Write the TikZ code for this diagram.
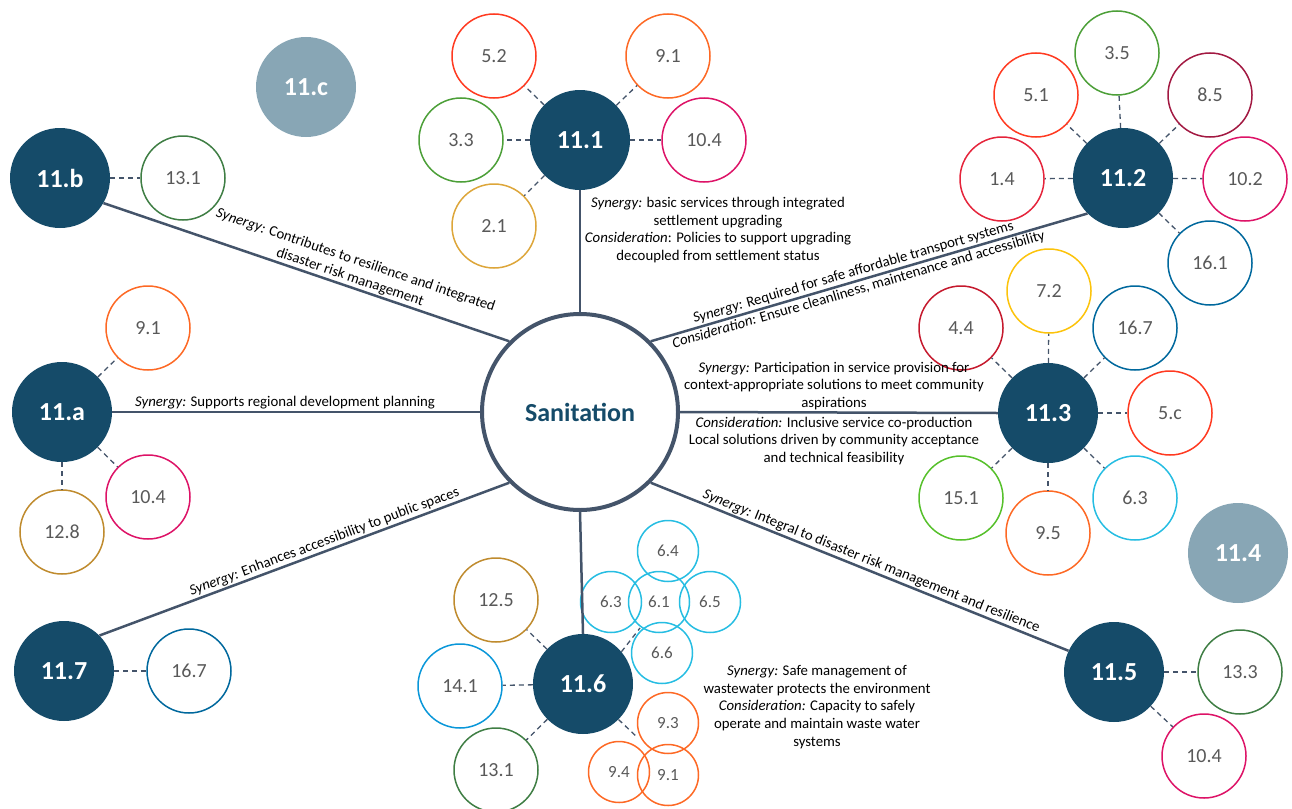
\documentclass[tikz,border=0pt]{standalone}
\usepackage{fontspec}
\setmainfont{Carlito}
\definecolor{hubc}{HTML}{154B69}
\definecolor{grayc}{HTML}{88A6B5}
\definecolor{edgec}{HTML}{44546A}
\definecolor{txtg}{HTML}{595959}
\definecolor{sdgA}{HTML}{E5243B}
\definecolor{sdgB}{HTML}{DDA63A}
\definecolor{sdgC}{HTML}{4C9F38}
\definecolor{sdgD}{HTML}{C5192D}
\definecolor{sdgE}{HTML}{FF3A21}
\definecolor{sdgF}{HTML}{26BDE2}
\definecolor{sdgG}{HTML}{FCC30B}
\definecolor{sdgH}{HTML}{A21942}
\definecolor{sdgI}{HTML}{FD6925}
\definecolor{sdgJ}{HTML}{DD1367}
\definecolor{sdgL}{HTML}{BF8B2E}
\definecolor{sdgM}{HTML}{3F7E44}
\definecolor{sdgN}{HTML}{0A97D9}
\definecolor{sdgO}{HTML}{56C02B}
\definecolor{sdgP}{HTML}{00689D}
\tikzset{
  hub/.style={circle, fill=hubc, minimum size=100pt, inner sep=0pt, text=white, font=\fontsize{26}{30}\selectfont\bfseries},
  ghub/.style={hub, fill=grayc},
  sat/.style={circle, draw=#1, line width=1.5pt, minimum size=84pt, inner sep=0pt, text=txtg, font=\fontsize{20}{24}\selectfont},
  csat/.style={sat=#1, minimum size=61pt, font=\fontsize{17}{20}\selectfont},
  edge/.style={draw=edgec, line width=2.5pt},
  dsh/.style={draw=edgec, line width=1.3pt, dash pattern=on 5pt off 4pt},
  lbl/.style={font=\fontsize{14.8}{17.8}\selectfont, align=center, inner sep=1.5pt, text=black},
}
\begin{document}
\begin{tikzpicture}[x=1pt,y=-1pt]
\useasboundingbox (0,0) rectangle (1292,808);
% centre
\node[circle, draw=edgec, line width=4pt, fill=white, minimum size=196pt, inner sep=0pt, text=hubc, font=\fontsize{26}{30}\selectfont\bfseries] (san) at (580,412) {Sanitation};
% hubs
\node[hub] (h11b) at (60,178) {11.b};
\node[ghub] (h11c) at (306,87) {11.c};
\node[hub] (h111) at (580,140) {11.1};
\node[hub] (h112) at (1123,178) {11.2};
\node[hub] (h11a) at (62,412) {11.a};
\node[hub] (h113) at (1048,413) {11.3};
\node[ghub] (h114) at (1238,553) {11.4};
\node[hub] (h117) at (64,671) {11.7};
\node[hub] (h116) at (583,684) {11.6};
\node[hub] (h115) at (1114,672) {11.5};
% satellites 11.b
\node[sat=sdgM] (b131) at (183,178) {13.1};
% 11.1
\node[sat=sdgE] (a52) at (494,56) {5.2};
\node[sat=sdgI] (a91) at (668,56) {9.1};
\node[sat=sdgC] (a33) at (461,140) {3.3};
\node[sat=sdgJ] (a104) at (704,140) {10.4};
\node[sat=sdgB] (a21) at (494,226) {2.1};
% 11.2
\node[sat=sdgC] (c35) at (1117,53) {3.5};
\node[sat=sdgE] (c51) at (1036,95) {5.1};
\node[sat=sdgH] (c85) at (1210,95) {8.5};
\node[sat=sdgA] (c14) at (1002,179) {1.4};
\node[sat=sdgJ] (c102) at (1245,179) {10.2};
\node[sat=sdgP] (c161) at (1210,263) {16.1};
% 11.a
\node[sat=sdgI] (e91) at (148,328) {9.1};
\node[sat=sdgJ] (e104) at (148,497) {10.4};
\node[sat=sdgL] (e128) at (62,532) {12.8};
% 11.3
\node[sat=sdgD] (f44) at (961,328) {4.4};
\node[sat=sdgG] (f72) at (1049,291) {7.2};
\node[sat=sdgP] (f167) at (1135,328) {16.7};
\node[sat=sdgE] (f5c) at (1170,413) {5.c};
\node[sat=sdgO] (f151) at (961,498) {15.1};
\node[sat=sdgI] (f95) at (1048,533) {9.5};
\node[sat=sdgF] (f63) at (1135,498) {6.3};
% 11.7
\node[sat=sdgP] (g167) at (189,671) {16.7};
% 11.5
\node[sat=sdgM] (k133) at (1240,672) {13.3};
\node[sat=sdgJ] (k104) at (1204,756) {10.4};
% 11.6
\node[sat=sdgL] (m125) at (496,600) {12.5};
\node[sat=sdgN] (m141) at (460,686) {14.1};
\node[sat=sdgM] (m131) at (496,770) {13.1};
\node[csat=sdgF] (m64) at (668,551) {6.4};
\node[csat=sdgF] (m63) at (611,602) {6.3};
\node[csat=sdgF] (m61) at (659,602) {6.1};
\node[csat=sdgF] (m65) at (710,602) {6.5};
\node[csat=sdgF] (m66) at (662,653) {6.6};
\node[csat=sdgI] (m93) at (668,723) {9.3};
\node[csat=sdgI] (m94) at (619,772) {9.4};
\node[csat=sdgI] (m91) at (668,775) {9.1};
\coordinate (d6) at (640,628);
\coordinate (d9) at (638,738);
% dashed connectors
\draw[dsh] (h11b) -- (b131);
\foreach \s in {a52,a91,a33,a104,a21} \draw[dsh] (h111) -- (\s);
\foreach \s in {c35,c51,c85,c14,c102,c161} \draw[dsh] (h112) -- (\s);
\foreach \s in {e91,e104,e128} \draw[dsh] (h11a) -- (\s);
\foreach \s in {f44,f72,f167,f5c,f151,f95,f63} \draw[dsh] (h113) -- (\s);
\draw[dsh] (h117) -- (g167);
\foreach \s in {k133,k104} \draw[dsh] (h115) -- (\s);
\foreach \s in {m125,m141,m131} \draw[dsh] (h116) -- (\s);
\draw[dsh] (h116.40) -- (d6);
\draw[dsh] (h116.-45) -- (d9);
% main edges with labels
\draw[edge] (h11b.-30) -- node[lbl, sloped, above, pos=.6] {\textit{Synergy:} Contributes to resilience and integrated\\disaster risk management} (san.135);
\draw[edge] (san.90) -- (h111.-90);
\draw[edge] (san.45) -- node[lbl, sloped, above, pos=.47] {\textit{Synergy:} Required for safe affordable transport systems}
  node[lbl, sloped, below, pos=.47] {\textit{Consideration:} Ensure cleanliness, maintenance and accessibility} (h112.225);
\draw[edge] (h11a.0) -- node[lbl, above, pos=.47] {\textit{Synergy:} Supports regional development planning} (san.180);
\draw[edge] (san.0) -- (h113.180);
\draw[edge] (h117.45) -- node[lbl, sloped, above, pos=.557] {\textit{Synergy:} Enhances accessibility to public spaces} (san.225);
\draw[edge] (san.-90) -- (h116.90);
\draw[edge] (san.-45) -- node[lbl, sloped, above, pos=.52] {\textit{Synergy:} Integral to disaster risk management and resilience} (h115.155);
% free labels
\node[lbl] (l111) at (718,230) {\textit{Synergy:} basic services through integrated\\settlement upgrading\\\textit{Consideration}: Policies to support upgrading\\decoupled from settlement status};
\node[lbl] (l113a) at (834,386) {\textit{Synergy:} Participation in service provision for\\context-appropriate solutions to meet community\\aspirations};
\node[lbl] (l113b) at (834,441) {\textit{Consideration:} Inclusive service co-production\\Local solutions driven by community acceptance\\and technical feasibility};
\node[lbl] (l116) at (817,707) {\textit{Synergy:} Safe management of\\wastewater protects the environment\\\textit{Consideration:} Capacity to safely\\operate and maintain waste water\\systems};
\end{tikzpicture}
\end{document}
